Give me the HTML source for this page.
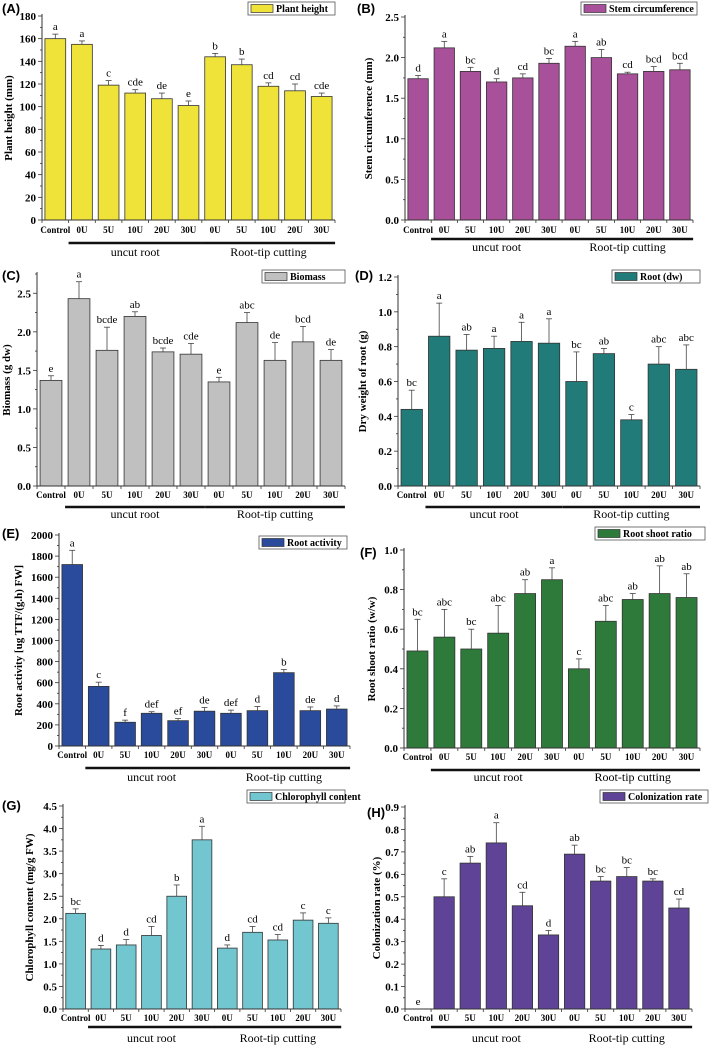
<!DOCTYPE html>
<html><head><meta charset="utf-8">
<style>
html,body{margin:0;padding:0;background:#fff;}
svg{display:block;font-family:"Liberation Serif",serif;}
</style></head>
<body>
<svg id="fig" width="709" height="1045" viewBox="0 0 709 1045" xmlns="http://www.w3.org/2000/svg"></svg>
<script>
const categories = ["Control","0U","5U","10U","20U","30U","0U","5U","10U","20U","30U"];
const heightVals = [160,155,119,112,107,101,144,137,118,114,109];
const heightErr = [4,3,4,3,5,4,3,5,3,6,3];
const heightLetters = ["a","a","c","cde","de","e","b","b","cd","cd","cde"];
const stemVals = [1.74,2.12,1.83,1.70,1.75,1.93,2.14,2.00,1.80,1.83,1.85];
const stemErr = [0.04,0.08,0.05,0.04,0.05,0.06,0.06,0.10,0.02,0.06,0.08];
const stemLetters = ["d","a","bc","d","cd","bc","a","ab","cd","bcd","bcd"];
const biomassVals = [1.37,2.43,1.76,2.20,1.74,1.71,1.35,2.12,1.63,1.87,1.63];
const biomassErr = [0.06,0.22,0.30,0.06,0.05,0.14,0.06,0.13,0.23,0.20,0.14];
const biomassLetters = ["e","a","bcde","ab","bcde","cde","e","abc","de","bcd","de"];
const rootVals = [0.44,0.86,0.78,0.79,0.83,0.82,0.60,0.76,0.38,0.70,0.67];
const rootErr = [0.11,0.19,0.09,0.07,0.11,0.14,0.17,0.03,0.03,0.10,0.14];
const rootLetters = ["bc","a","ab","a","a","a","bc","ab","c","abc","abc"];
const activityVals = [1720,565,225,310,240,330,310,335,695,335,350];
const activityErr = [135,40,20,15,20,35,30,40,30,35,30];
const activityLetters = ["a","c","f","def","ef","de","def","d","b","de","d"];
const ratioVals = [0.49,0.56,0.50,0.58,0.78,0.85,0.40,0.64,0.75,0.78,0.76];
const ratioErr = [0.16,0.14,0.10,0.14,0.07,0.06,0.05,0.08,0.03,0.14,0.12];
const ratioLetters = ["bc","abc","bc","abc","ab","a","c","abc","ab","ab","ab"];
const chlVals = [2.12,1.33,1.42,1.63,2.50,3.75,1.35,1.70,1.53,1.97,1.90];
const chlErr = [0.10,0.08,0.12,0.20,0.25,0.30,0.07,0.13,0.12,0.16,0.12];
const chlLetters = ["bc","d","d","cd","b","a","d","cd","cd","c","c"];
const colVals = [0,0.50,0.65,0.74,0.46,0.33,0.69,0.57,0.59,0.57,0.45];
const colErr = [0,0.08,0.03,0.09,0.06,0.02,0.04,0.02,0.04,0.01,0.04];
const colLetters = ["e","c","ab","a","cd","d","ab","bc","bc","bc","cd"];

const NS="http://www.w3.org/2000/svg";
const svg=document.getElementById('fig');
function mk(tag,attrs,parent){const e=document.createElementNS(NS,tag);for(const k in attrs)e.setAttribute(k,attrs[k]);(parent||svg).appendChild(e);return e;}
function txt(s,attrs,parent){const e=mk('text',attrs,parent);e.textContent=s;return e;}

const panels=[
 {id:'a',label:'(A)',lx:2,ly:13,vals:heightVals,err:heightErr,let:heightLetters,color:'#efe33a',x0:42,x1:335,yb:220,yt:16,max:180,step:20,dec:0,title:'Plant height (mm)',tx:12,leg:'Plant height',lgx:248,lgy:2,lgw:87,cy:233,gy:243,gt:256},
 {id:'b',label:'(B)',lx:357,ly:13,vals:stemVals,err:stemErr,let:stemLetters,color:'#a8509a',x0:405,x1:693,yb:220,yt:17,max:2.5,step:0.5,dec:1,title:'Stem circumference (mm)',tx:372,leg:'Stem circumference',lgx:581,lgy:2,lgw:116,cy:233,gy:239,gt:251},
 {id:'c',label:'(C)',lx:2,ly:280,vals:biomassVals,err:biomassErr,let:biomassLetters,color:'#c0c0c0',x0:37,x1:345,yb:486,yt:274,max:2.75,tickMax:2.5,step:0.5,dec:1,title:'Biomass (g dw)',tx:10,leg:'Biomass',lgx:262,lgy:270,lgw:83,cy:498,gy:507,gt:518},
 {id:'d',label:'(D)',lx:355,ly:280,vals:rootVals,err:rootErr,let:rootLetters,color:'#217b78',x0:398,x1:700,yb:486,yt:277,max:1.2,step:0.2,dec:1,title:'Dry weight of root (g)',tx:366,leg:'Root (dw)',lgx:612,lgy:270,lgw:88,cy:498,gy:507,gt:518},
 {id:'e',label:'(E)',lx:2,ly:538,vals:activityVals,err:activityErr,let:activityLetters,color:'#2a4a9c',x0:59,x1:350,yb:746,yt:535,max:2000,step:200,dec:0,title:'Root activity [ug TTF/(g.h) FW]',tx:22,leg:'Root activity',lgx:259,lgy:536,lgw:88,cy:758,gy:768,gt:781},
 {id:'f',label:'(F)',lx:360,ly:557,vals:ratioVals,err:ratioErr,let:ratioLetters,color:'#2e7a3a',x0:404,x1:700,yb:748,yt:550,max:1.0,step:0.2,dec:1,title:'Root shoot ratio (w/w)',tx:375,leg:'Root shoot ratio',lgx:595,lgy:527,lgw:110,cy:760,gy:770,gt:781},
 {id:'g',label:'(G)',lx:2,ly:810,vals:chlVals,err:chlErr,let:chlLetters,color:'#72c6d0',x0:63,x1:341,yb:1009,yt:806,max:4.5,step:0.5,dec:1,title:'Chlorophyll content (mg/g FW)',tx:33,leg:'Chlorophyll content',lgx:247,lgy:790,lgw:98,cy:1021,gy:1027,gt:1042},
 {id:'h',label:'(H)',lx:367,ly:817,vals:colVals,err:colErr,let:colLetters,color:'#5e4397',x0:405,x1:692,yb:1009,yt:807,max:0.9,step:0.1,dec:1,title:'Colonization rate (%)',tx:380,leg:'Colonization rate',lgx:600,lgy:790,lgw:108,cy:1021,gy:1027,gt:1042}
];

panels.forEach(p=>{
 const g=mk('g',{});
 
 
 const y=v=>p.yb-(v/p.max)*(p.yb-p.yt);
 const n=p.vals.length, slot=(p.x1-p.x0)/n, bw=slot*0.78;
 const xc=i=>p.x0+slot*(i+0.5);
 const pl=txt(p.label,{x:p.lx,y:p.ly,'font-family':'Liberation Sans, sans-serif','font-size':13,'font-weight':'bold'},g);
 
 
 p.vals.forEach((v,i)=>{
  const b=mk('rect',{x:xc(i)-bw/2,y:y(v),width:bw,height:Math.max(0,p.yb-y(v)),fill:p.color,stroke:'#333','stroke-width':0.8},g);
  
  
  const ye=y(v+p.err[i]);
  if(p.err[i]>0){
   mk('line',{x1:xc(i),x2:xc(i),y1:y(v),y2:ye,stroke:'#444','stroke-width':0.8},g);
   mk('line',{x1:xc(i)-3,x2:xc(i)+3,y1:ye,y2:ye,stroke:'#444','stroke-width':0.8},g);
  }
  const l=txt(p.let[i],{x:xc(i),y:ye-4,'text-anchor':'middle','font-size':11},g);
  
  
  const c=txt(categories[i],{x:xc(i),y:p.cy,'text-anchor':'middle','font-size':9,'font-weight':'bold'},g);
  
  
 });
 mk('line',{x1:p.x0,x2:p.x0,y1:p.yt-2,y2:p.yb,stroke:'#333','stroke-width':1},g);
 mk('line',{x1:p.x0,x2:p.x1,y1:p.yb,y2:p.yb,stroke:'#333','stroke-width':1},g);
 for(let i=0;i<=n;i++){const xx=p.x0+slot*i;mk('line',{x1:xx,x2:xx,y1:p.yb,y2:p.yb+3,stroke:'#333','stroke-width':0.8},g);}
 const tmax=p.tickMax||p.max;
 const nt=Math.round(tmax/p.step);
 for(let k=0;k<=nt;k++){
  const v=k*p.step, yy=y(v);
  mk('line',{x1:p.x0-4,x2:p.x0,y1:yy,y2:yy,stroke:'#333','stroke-width':0.8},g);
  if(k<nt||p.max>tmax+1e-9){const ym=y(v+p.step/2);if(ym>=p.yt-1)mk('line',{x1:p.x0-2,x2:p.x0,y1:ym,y2:ym,stroke:'#333','stroke-width':0.8},g);}
  const t=txt(v.toFixed(p.dec),{x:p.x0-6,y:yy+4,'text-anchor':'end','font-size':11,'font-weight':'bold'},g);
  
  
 }
 const yt=txt(p.title,{x:p.tx,y:(p.yt+p.yb)/2,'text-anchor':'middle','font-size':11,'font-weight':'bold',transform:`rotate(-90 ${p.tx} ${(p.yt+p.yb)/2})`},g);
 
 
 const groups=[['uncut root',1,5],['Root-tip cutting',6,10]];
 groups.forEach(gr=>{
  const a=xc(gr[1])-bw/2-3,b=xc(gr[2])+bw/2+3;
  const gl=mk('line',{x1:a,x2:b,y1:p.gy,y2:p.gy,stroke:'#111','stroke-width':2.5},g);
  
  
  const gt=txt(gr[0],{x:(a+b)/2,y:p.gt,'text-anchor':'middle','font-size':12},g);
  
  
 });
 const lg=mk('g',{},g);
 
 
 mk('rect',{x:p.lgx,y:p.lgy,width:p.lgw,height:13,fill:'#fff',stroke:'#555','stroke-width':0.8},lg);
 mk('rect',{x:p.lgx+3,y:p.lgy+2.5,width:22,height:8,fill:p.color,stroke:'#333','stroke-width':0.7},lg);
 txt(p.leg,{x:p.lgx+28,y:p.lgy+10,'font-size':10,'font-weight':'bold'},lg);
});
</script>
</body></html>
